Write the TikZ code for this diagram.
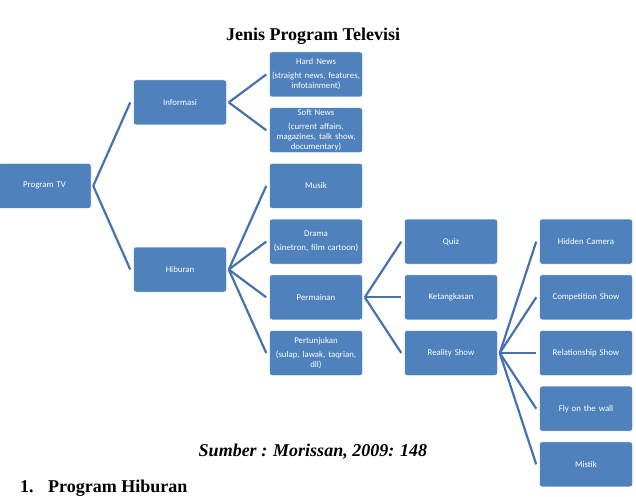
\documentclass[tikz,border=0pt]{standalone}
\usepackage{fontspec}
\setmainfont{Liberation Serif}
\newfontfamily\boxfont{Carlito}
\definecolor{boxblue}{HTML}{4F81BD}
\definecolor{lineblue}{HTML}{4672AD}
\begin{document}
\begin{tikzpicture}[x=1pt,y=-1pt,
  boxnode/.style={rectangle, rounded corners=2.5pt, fill=boxblue, draw=white, line width=0.5pt,
    minimum width=93pt, minimum height=45pt, text width=90pt, inner sep=1.5pt, align=center,
    text=white, font=\boxfont\fontsize{8.8}{10.3}\selectfont},
  conn/.style={draw=lineblue, line width=2.2pt},
  heading/.style={font=\bfseries\fontsize{18}{21}\selectfont, inner sep=0pt, anchor=base}]
\useasboundingbox (0,0) rectangle (636,497);
% text
\node[heading] (title) at (313,41) {Jenis Program Televisi};
\node[heading, font=\bfseries\itshape\fontsize{18}{21}\selectfont] (src) at (313,456) {Sumber : Morissan, 2009: 148};
\node[heading, anchor=base west] (sec) at (20,492) {\makebox[28pt][l]{1.}Program Hiburan};
% column 0
\node[boxnode] (tv) at (44.5,185.9) {Program TV};
% column 1
\node[boxnode] (info) at (180,102.4) {Informasi};
\node[boxnode] (hib) at (180,269.5) {Hiburan};
% column 2
\node[boxnode] (hard) at (316,74.5) {Hard News\\[3.5pt](straight news, features,\\infotainment)};
\node[boxnode] (soft) at (316,130.2) {Soft News\\[3.5pt](current affairs,\\magazines, talk show,\\documentary)};
\node[boxnode] (musik) at (316,185.9) {Musik};
\node[boxnode] (drama) at (316,241.6) {Drama\\[3.5pt](sinetron, film cartoon)};
\node[boxnode] (perm) at (316,297.3) {Permainan};
\node[boxnode] (pert) at (316,353) {Pertunjukan\\[3.5pt](sulap, lawak, taqrian,\\dll)};
% column 3
\node[boxnode] (quiz) at (451,241.6) {Quiz};
\node[boxnode] (ket) at (451,297.3) {Ketangkasan};
\node[boxnode] (real) at (451,353) {Reality Show};
% column 4
\node[boxnode] (hid) at (586,241.6) {Hidden Camera};
\node[boxnode] (comp) at (586,297.3) {Competition Show};
\node[boxnode] (rel) at (586,353) {Relationship Show};
\node[boxnode] (fly) at (586,408.7) {Fly on the wall};
\node[boxnode] (mis) at (586,464.4) {Mistik};
% connectors
\foreach \p/\c in {tv/info, tv/hib, info/hard, info/soft, hib/musik, hib/drama, hib/perm, hib/pert,
  perm/quiz, perm/ket, perm/real, real/hid, real/comp, real/rel, real/fly, real/mis}
  \draw[conn] ([xshift=2pt]\p.east) -- ([xshift=-3pt]\c.west);
\end{tikzpicture}
\end{document}
